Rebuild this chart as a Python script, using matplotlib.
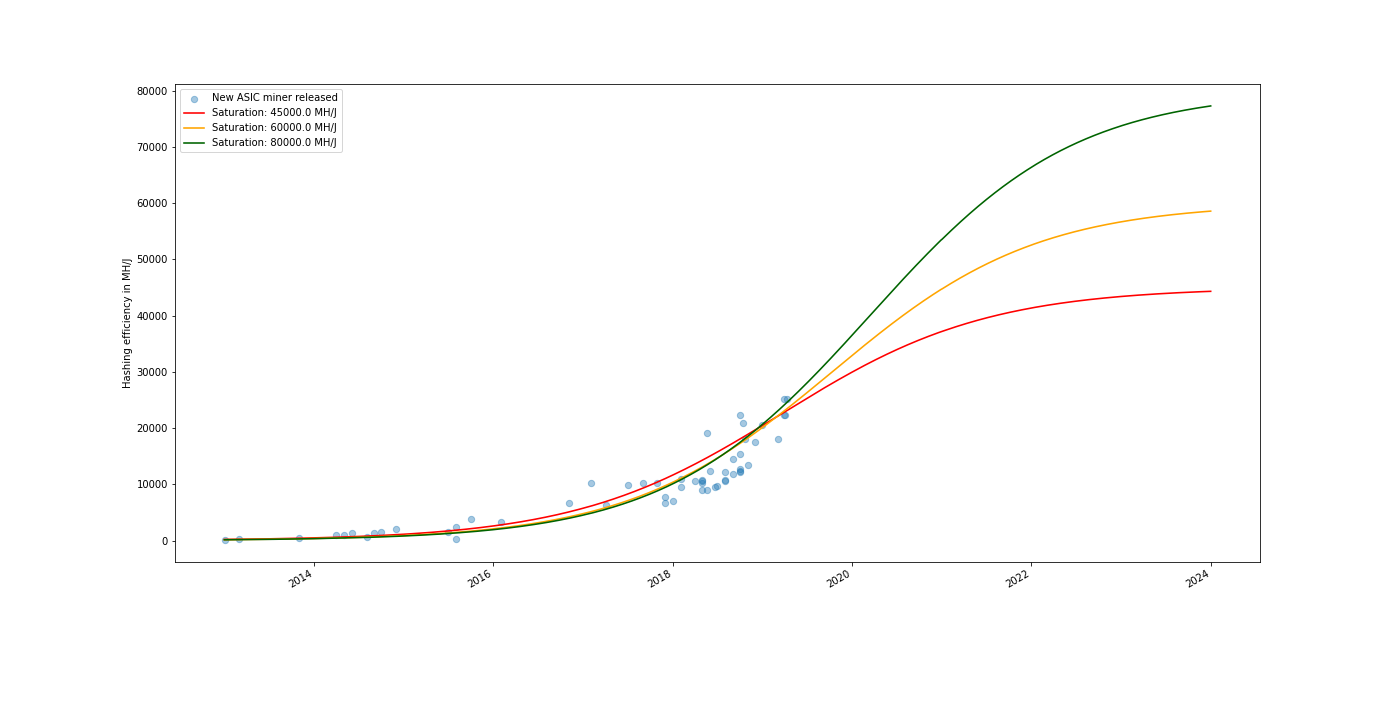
import numpy as np
import pandas as pd
import matplotlib
matplotlib.use("Agg")
import matplotlib.pyplot as plt

# Released ASIC miners: release date and hashing efficiency (MH/J)
release_dates = [
    "2013-01-05", "2013-03-03", "2013-11-02", "2014-04-01", "2014-05-04",
    "2014-06-03", "2014-08-04", "2014-09-02", "2014-10-01", "2014-12-02",
    "2015-07-02", "2015-08-04", "2015-08-04", "2015-10-01", "2016-02-03",
    "2016-11-03", "2017-02-03", "2017-04-05", "2017-07-05", "2017-09-02",
    "2017-10-31", "2017-12-02", "2017-12-02", "2018-01-04", "2018-02-03",
    "2018-02-03", "2018-04-01", "2018-05-01", "2018-05-01", "2018-05-01",
    "2018-05-01", "2018-05-19", "2018-05-19", "2018-06-03", "2018-06-21",
    "2018-07-01", "2018-08-04", "2018-08-04", "2018-08-04", "2018-09-02",
    "2018-09-02", "2018-10-01", "2018-10-01", "2018-10-01", "2018-10-01",
    "2018-10-01", "2018-10-16", "2018-10-23", "2018-11-03", "2018-12-02",
    "2019-01-01", "2019-03-04", "2019-04-01", "2019-04-12", "2019-04-01",
    "2019-04-03",
]
efficiency = [
    120, 350, 480, 1070, 950,
    1300, 650, 1420, 1540, 2080,
    1540, 2370, 350, 3790, 3380,
    6760, 10260, 6340, 9960, 10260,
    10260, 7700, 6700, 6990, 10970,
    9550, 10610, 10800, 10600, 10250,
    9070, 19080, 9070, 12320, 9540,
    9720, 12210, 10540, 10840, 11850,
    14520, 15470, 12800, 12400, 12140,
    22280, 20980, 18130, 13460, 17600,
    20500, 18130, 25240, 25240, 22280,
    22280,
]

# Logistic model curves (saturation level, midpoint year, growth rate per year)
saturations = [45000.0, 60000.0, 80000.0]
midpoints = [2019.21, 2019.78, 2020.20]
growth_rates = [0.87, 0.88, 0.88]
curve_colors = ["red", "orange", "darkgreen"]
curve_start = "2013-01-01"
curve_end = "2024-01-01"

dates = pd.to_datetime(release_dates)
curve_dates = pd.date_range(curve_start, curve_end, freq="D")
curve_years = curve_dates.year + (curve_dates.dayofyear - 1) / 365.25

DPI = 72
fig, ax = plt.subplots(figsize=(1400 / DPI, 702 / DPI), dpi=DPI)
ax.scatter(dates, efficiency, alpha=0.4, s=40, label="New ASIC miner released")
for L, t0, k, c in zip(saturations, midpoints, growth_rates, curve_colors):
    vals = L / (1.0 + np.exp(-k * (np.asarray(curve_years) - t0)))
    ax.plot(curve_dates, vals, color=c, lw=1.6, label=f"Saturation: {L} MH/J")

ax.set_ylabel("Hashing efficiency in MH/J")
ax.legend(loc="upper left")
fig.autofmt_xdate()
fig.savefig("out.png", dpi=DPI)
